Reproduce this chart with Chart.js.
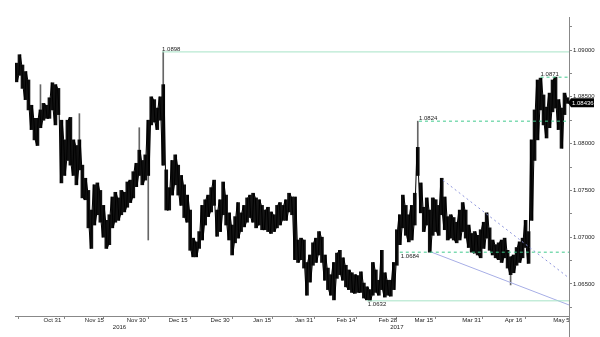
<!DOCTYPE html>
<html><head><meta charset="utf-8">
<script src="https://cdn.jsdelivr.net/npm/chart.js@4.4.1/dist/chart.umd.min.js"></script>
<style>html,body{margin:0;padding:0;background:#fff;overflow:hidden}#c{display:block}</style>
</head><body>
<canvas id="c" width="600" height="337"></canvas>
<script>
const highs = [
1.0886,1.0895,1.0884,1.0877,1.0868,1.0841,1.0827,1.0827,1.0836,1.0843,
1.0841,1.0849,1.0865,1.0863,1.0859,1.0825,1.0804,1.0825,1.0828,1.0804,
1.0798,1.0804,1.0777,1.0763,1.0750,1.0729,1.0756,1.0758,1.0750,1.0734,
1.0718,1.0724,1.0743,1.0748,1.0742,1.0750,1.0748,1.0759,1.0761,1.0770,
1.0779,1.0793,1.0782,1.0788,1.0825,1.0850,1.0847,1.0838,1.0850,1.0863,
1.0772,1.0753,1.0782,1.0788,1.0777,1.0766,1.0756,1.0745,1.0729,1.0699,
1.0695,1.0706,1.0734,1.0740,1.0745,1.0753,1.0761,1.0729,1.0740,1.0759,
1.0745,1.0726,1.0713,1.0722,1.0737,1.0726,1.0734,1.0742,1.0745,1.0747,
1.0742,1.0740,1.0734,1.0729,1.0732,1.0727,1.0724,1.0734,1.0737,1.0734,
1.0740,1.0747,1.0743,1.0743,1.0697,1.0699,1.0697,1.0673,1.0681,1.0694,
1.0699,1.0706,1.0700,1.0681,1.0667,1.0660,1.0673,1.0683,1.0686,1.0678,
1.0670,1.0665,1.0662,1.0660,1.0659,1.0663,1.0651,1.0647,1.0644,1.0673,
1.0665,1.0654,1.0686,1.0662,1.0654,1.0654,1.0673,1.0708,1.0724,1.0745,
1.0734,1.0724,1.0734,1.0747,1.0796,1.0758,1.0732,1.0742,1.0729,1.0742,
1.0740,1.0734,1.0763,1.0743,1.0722,1.0724,1.0721,1.0716,1.0729,1.0737,
1.0729,1.0713,1.0704,1.0706,1.0702,1.0708,1.0716,1.0726,1.0710,1.0697,
1.0692,1.0694,1.0697,1.0699,1.0686,1.0679,1.0681,1.0689,1.0695,1.0699,
1.0718,1.0706,1.0804,1.0836,1.0868,1.0870,1.0852,1.0839,1.0854,1.0868,
1.0871,1.0847,1.0838,1.0854,1.0849];
const lows = [
1.0866,1.0873,1.0859,1.0847,1.0836,1.0815,1.0804,1.0798,1.0817,1.0825,
1.0827,1.0827,1.0836,1.0820,1.0831,1.0758,1.0766,1.0782,1.0777,1.0766,
1.0756,1.0772,1.0742,1.0740,1.0710,1.0688,1.0713,1.0724,1.0716,1.0700,
1.0688,1.0692,1.0710,1.0716,1.0718,1.0724,1.0727,1.0732,1.0737,1.0742,
1.0754,1.0766,1.0756,1.0761,1.0766,1.0820,1.0823,1.0815,1.0825,1.0777,
1.0729,1.0729,1.0745,1.0756,1.0745,1.0734,1.0721,1.0716,1.0686,1.0679,
1.0679,1.0688,1.0697,1.0713,1.0722,1.0727,1.0734,1.0701,1.0706,1.0724,
1.0713,1.0697,1.0681,1.0694,1.0699,1.0706,1.0711,1.0716,1.0721,1.0716,
1.0710,1.0713,1.0708,1.0708,1.0706,1.0704,1.0706,1.0710,1.0713,1.0718,
1.0718,1.0727,1.0724,1.0676,1.0673,1.0676,1.0667,1.0638,1.0652,1.0670,
1.0673,1.0681,1.0673,1.0654,1.0644,1.0638,1.0633,1.0656,1.0660,1.0654,
1.0647,1.0644,1.0641,1.0640,1.0641,1.0641,1.0635,1.0633,1.0632,1.0638,
1.0641,1.0638,1.0644,1.0636,1.0638,1.0637,1.0644,1.0670,1.0692,1.0710,
1.0702,1.0695,1.0697,1.0713,1.0766,1.0726,1.0706,1.0713,1.0684,1.0702,
1.0706,1.0702,1.0724,1.0708,1.0697,1.0699,1.0697,1.0694,1.0697,1.0706,
1.0699,1.0689,1.0684,1.0683,1.0681,1.0678,1.0688,1.0699,1.0686,1.0681,
1.0678,1.0676,1.0673,1.0678,1.0667,1.0660,1.0662,1.0670,1.0673,1.0678,
1.0689,1.0672,1.0718,1.0782,1.0804,1.0836,1.0820,1.0806,1.0817,1.0834,
1.0838,1.0815,1.0795,1.0831,1.0843];

const wickCols  = [8, 21, 41, 44, 49, 134, 165];
const wickLows  = [1.0817, 1.0772, 1.0766, 1.0697, 1.0777, 1.0766, 1.0649];
const wickHighs = [1.0863, 1.0832, 1.0817, 1.0825, 1.0898, 1.0824, 1.0679];

const xTickLabels = ['Oct 31','Nov 15','Nov 30','Dec 15','Dec 30','Jan 15','Jan 31','Feb 14','Feb 28','Mar 15','Mar 31','Apr 16','May 5'];
const xTickCols   = [12, 26, 40, 54, 68, 82, 96, 110, 124, 136, 152, 166, 182];
const xMinorCols  = [4.5, 19.9, 32.2, 47.9, 61.9, 76.3, 89, 103, 117, 130, 144, 159, 174];
const yearLabels  = ['2016', '2017'];
const yearCols    = [34.4, 127];

const yTickValues = [1.0625,1.065,1.0675,1.07,1.0725,1.075,1.0775,1.08,1.0825,1.085,1.0875,1.09,1.0925];

const levelValues    = [1.0898, 1.0871, 1.0824, 1.0684, 1.0632];
const levelStartCols = [48.6, 175, 134.4, 128, 117];

const supportCols = [138.6, 184.5];
const supportVals = [1.0684, 1.06276];
const resistCols  = [142.4, 184.5];
const resistVals  = [1.0761, 1.06564];

const lastPrice = 1.08436;

const N = highs.length;
const bandData = highs.map((h, i) => ({x: i, y: [lows[i], h]}));
const pathData = [];
highs.forEach((h, i) => {
  const a = i % 2 === 0 ? h : lows[i];
  const b = i % 2 === 0 ? lows[i] : h;
  pathData.push({x: i - 0.25, y: a}, {x: i + 0.25, y: b});
});
const wickData = wickCols.map((c, i) => ({x: c, y: [wickLows[i], wickHighs[i]]}));

const FONT = '"Liberation Sans", Arial, sans-serif';
const levelStyles = [
  {color:'#a6e3c6', dash:[]},
  {color:'#3fc98c', dash:[3,3]},
  {color:'#3fc98c', dash:[3,3]},
  {color:'#3fc98c', dash:[3,3]},
  {color:'#a6e3c6', dash:[]}
];
const labelBelow = [false, false, false, true, true];

const levelSets = levelValues.map((v, i) => ({
  type:'line',
  data:[{x: levelStartCols[i], y: v}, {x: N - 0.5, y: v}],
  borderColor: levelStyles[i].color, borderDash: levelStyles[i].dash,
  borderWidth: 1, pointRadius: 0, order: 0, clip: false
}));

const annot = {
  id:'annot',
  afterDraw(chart){
    const {ctx, scales:{x, y}, chartArea} = chart;
    ctx.save();
    ctx.font = '6px ' + FONT;
    ctx.fillStyle = '#222';
    ctx.textAlign = 'left';
    levelValues.forEach((v, i) => {
      const px = x.getPixelForValue(levelStartCols[i]);
      const py = y.getPixelForValue(v);
      if (labelBelow[i]) { ctx.textBaseline = 'top'; ctx.fillText(v.toFixed(4), px + 1, py + 1); }
      else { ctx.textBaseline = 'bottom'; ctx.fillText(v.toFixed(4), px, py); }
    });
    ctx.textAlign = 'center'; ctx.textBaseline = 'middle';
    yearLabels.forEach((t, i) => ctx.fillText(t, x.getPixelForValue(yearCols[i]), 327));
    ctx.strokeStyle = '#888'; ctx.lineWidth = 1;
    ctx.beginPath(); ctx.moveTo(chartArea.right + 0.5, chartArea.bottom); ctx.lineTo(chartArea.right + 0.5, 337); ctx.stroke();
    const py = y.getPixelForValue(lastPrice);
    const bx = chartArea.right;
    ctx.fillStyle = '#000';
    ctx.beginPath();
    ctx.moveTo(bx - 1, py); ctx.lineTo(bx + 2, py - 4.5); ctx.lineTo(bx + 25, py - 4.5);
    ctx.lineTo(bx + 25, py + 4.5); ctx.lineTo(bx + 2, py + 4.5); ctx.closePath(); ctx.fill();
    ctx.fillStyle = '#fff'; ctx.textAlign = 'left'; ctx.textBaseline = 'middle';
    ctx.fillText(lastPrice.toFixed(5), bx + 3, py + 0.5);
    ctx.restore();
  }
};

new Chart(document.getElementById('c'), {
  type:'bar',
  data:{ datasets:[
    ...levelSets,
    {type:'line', data: supportCols.map((c,i)=>({x:c, y:supportVals[i]})), borderColor:'#a7aee6', borderWidth:1, pointRadius:0, order:0, clip:false},
    {type:'line', data: resistCols.map((c,i)=>({x:c, y:resistVals[i]})), borderColor:'#8e95dc', borderDash:[2,3], borderWidth:1, pointRadius:0, order:0, clip:false},
    {type:'line', data: pathData, borderColor:'#000', borderWidth:1, pointRadius:0, tension:0, order:1},
    {label:'range', data: bandData, backgroundColor:'#111', borderWidth:0, barThickness:3, grouped:false, order:1},
    {label:'wick', data: wickData, backgroundColor:'#666', borderWidth:0, barThickness:1, grouped:false, order:2}
  ]},
  options:{
    responsive:false, animation:false, events:[],
    devicePixelRatio:1,
    layout:{padding:{left:15, top:17, right:0, bottom:0}},
    plugins:{legend:{display:false}, tooltip:{enabled:false}},
    scales:{
      x:{
        type:'linear', min:-0.5, max:N - 0.5, offset:false,
        afterFit(s){ s.height = 21; },
        afterBuildTicks(s){
          s.ticks = xTickCols.map(v => ({value:v})).concat(xMinorCols.map(v => ({value:v}))).sort((a,b)=>a.value-b.value);
        },
        ticks:{
          autoSkip:false, maxRotation:0, padding:-2, color:'#222',
          font:{family:FONT, size:6},
          callback(v){ const k = xTickCols.indexOf(v); return k >= 0 ? xTickLabels[k] : ''; }
        },
        grid:{display:true, drawOnChartArea:false, tickLength:3,
          color(ctx){ return (ctx.tick && xMinorCols.includes(ctx.tick.value)) ? '#888' : 'rgba(0,0,0,0)'; }},
        border:{display:true, color:'#888', width:1}
      },
      y:{
        type:'linear', position:'right', min:1.06158, max:1.09353,
        afterFit(s){ s.width = 31; },
        afterBuildTicks(s){ s.ticks = yTickValues.map(v => ({value:v})); },
        ticks:{
          padding:1, color:'#222', font:{family:FONT, size:6},
          callback(v){ return Math.abs(v*200 - Math.round(v*200)) < 1e-6 ? v.toFixed(5) : ''; }
        },
        grid:{display:true, drawOnChartArea:false, tickLength:3, color:'#888'},
        border:{display:true, color:'#888', width:1}
      }
    }
  },
  plugins:[annot]
});
</script>
</body></html>
